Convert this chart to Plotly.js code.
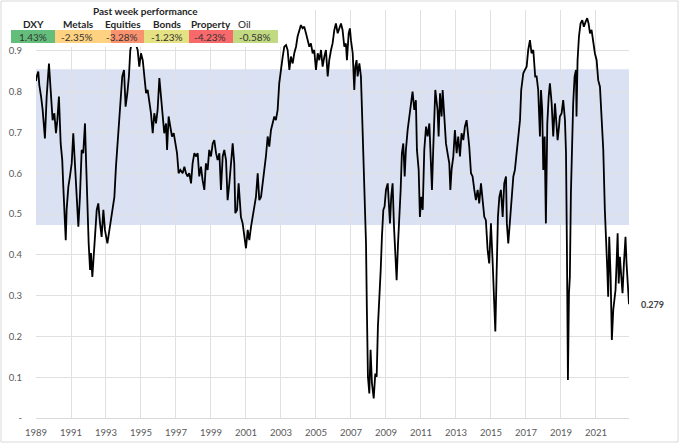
<!DOCTYPE html>
<html>
<head>
<meta charset="utf-8">
<script src="https://cdn.plot.ly/plotly-3.0.1.min.js"></script>
<style>
  html, body { margin: 0; padding: 0; background: #ffffff; }
  #chart { width: 680px; height: 444px; }
</style>
</head>
<body>
<div id="chart"></div>
<script>
// ---- data (decimal years, index values) ----
const years = [
  1989.00,1989.04,1989.13,1989.19,1989.29,1989.38,1989.51,1989.61,1989.74,1989.84,1989.95,
  1990.05,1990.14,1990.22,1990.31,1990.41,1990.50,1990.56,1990.64,1990.70,1990.75,1990.85,1990.94,
  1991.04,1991.13,1991.23,1991.32,1991.42,1991.51,1991.61,1991.70,1991.80,1991.86,1991.93,
  1992.01,1992.09,1992.14,1992.22,1992.28,1992.37,1992.47,1992.56,1992.66,1992.75,1992.85,1992.94,
  1993.08,1993.19,1993.29,1993.38,1993.48,1993.57,1993.67,1993.76,1993.84,1993.93,
  1994.03,1994.12,1994.22,1994.31,1994.39,1994.47,1994.60,1994.81,1994.90,
  1995.00,1995.10,1995.19,1995.29,1995.38,1995.48,1995.57,1995.67,1995.76,1995.86,1995.95,
  1996.05,1996.14,1996.24,1996.33,1996.43,1996.49,1996.58,1996.68,1996.77,1996.87,1996.96,
  1997.06,1997.15,1997.25,1997.38,1997.48,1997.57,1997.67,1997.76,1997.86,1997.95,
  1998.05,1998.14,1998.24,1998.33,1998.43,1998.52,1998.62,1998.71,1998.81,1998.90,
  1999.00,1999.10,1999.19,1999.29,1999.38,1999.48,1999.57,1999.67,1999.76,1999.86,1999.95,
  2000.05,2000.14,2000.24,2000.33,2000.39,2000.49,2000.58,2000.66,2000.71,2000.81,2000.90,
  2001.00,2001.10,2001.19,2001.29,2001.38,2001.48,2001.57,2001.67,2001.76,2001.86,2001.95,
  2002.05,2002.14,2002.24,2002.33,2002.43,2002.52,2002.62,2002.71,2002.81,2002.90,
  2003.00,2003.10,2003.19,2003.29,2003.38,2003.48,2003.57,2003.67,2003.76,2003.86,2003.95,
  2004.05,2004.14,2004.24,2004.33,2004.43,2004.52,2004.62,2004.71,2004.81,2004.90,
  2005.00,2005.10,2005.19,2005.29,2005.38,2005.48,2005.57,2005.67,2005.76,2005.86,2005.95,
  2006.05,2006.14,2006.24,2006.33,2006.43,2006.52,2006.62,2006.71,2006.77,2006.87,2006.94,
  2007.00,2007.10,2007.19,2007.25,2007.32,2007.38,2007.48,2007.57,2007.63,2007.70,2007.78,2007.86,2007.91,2007.97,
  2008.05,2008.12,2008.20,2008.30,2008.39,2008.47,2008.54,2008.62,2008.70,2008.77,2008.85,2008.92,
  2009.00,2009.10,2009.15,2009.23,2009.30,2009.38,2009.46,2009.53,2009.61,2009.69,2009.76,2009.84,2009.91,2009.99,
  2010.07,2010.14,2010.24,2010.33,2010.43,2010.52,2010.62,2010.71,2010.77,2010.87,2010.94,
  2011.02,2011.10,2011.19,2011.29,2011.38,2011.48,2011.55,2011.63,2011.70,2011.82,2011.95,
  2012.01,2012.09,2012.18,2012.24,2012.33,2012.43,2012.52,2012.62,2012.68,2012.75,2012.85,2012.94,
  2013.04,2013.13,2013.23,2013.32,2013.42,2013.51,2013.61,2013.70,2013.76,2013.86,2013.95,
  2014.05,2014.14,2014.24,2014.33,2014.43,2014.52,2014.62,2014.71,2014.81,2014.90,
  2015.00,2015.10,2015.17,2015.25,2015.32,2015.40,2015.48,2015.57,2015.67,2015.76,2015.86,2015.91,2015.99,
  2016.09,2016.18,2016.28,2016.37,2016.47,2016.56,2016.66,2016.73,2016.85,2016.94,
  2017.04,2017.13,2017.23,2017.32,2017.42,2017.53,2017.61,2017.70,2017.80,2017.86,2017.93,2017.99,
  2018.07,2018.14,2018.22,2018.30,2018.37,2018.47,2018.56,2018.66,2018.75,2018.81,2018.89,2018.94,
  2019.04,2019.13,2019.23,2019.29,2019.34,2019.40,2019.46,2019.51,2019.57,2019.63,2019.70,2019.78,2019.86,2019.89,2019.95,
  2020.03,2020.12,2020.22,2020.31,2020.41,2020.50,2020.58,2020.66,2020.75,2020.85,2020.94,
  2021.04,2021.13,2021.23,2021.32,2021.42,2021.51,2021.57,2021.65,2021.70,2021.76,2021.84,2021.91,2021.99,
  2022.05,2022.12,2022.18,2022.24,2022.30,2022.37,2022.45,2022.52,2022.60,2022.69,2022.75,2022.81,2022.89
];
const values = [
  0.826,0.837,0.849,0.816,0.788,0.755,0.685,0.788,0.869,0.796,0.730,
  0.747,0.698,0.730,0.788,0.673,0.632,0.567,0.493,0.436,0.510,0.567,0.592,
  0.624,0.698,0.616,0.542,0.469,0.542,0.657,0.649,0.722,0.632,0.510,
  0.428,0.363,0.404,0.346,0.379,0.444,0.510,0.526,0.477,0.444,0.510,0.461,
  0.428,0.461,0.493,0.510,0.542,0.616,0.673,0.730,0.788,0.837,
  0.853,0.763,0.796,0.837,0.902,0.918,0.930,0.902,0.861,
  0.894,0.877,0.828,0.796,0.804,0.771,0.747,0.698,0.747,0.722,0.755,
  0.833,0.788,0.730,0.698,0.722,0.657,0.739,0.714,0.690,0.698,0.673,
  0.649,0.600,0.608,0.600,0.616,0.600,0.592,0.600,0.575,0.624,
  0.649,0.641,0.649,0.592,0.616,0.583,0.559,0.624,0.608,0.657,
  0.641,0.673,0.681,0.649,0.632,0.649,0.559,0.641,0.657,0.632,0.534,
  0.575,0.624,0.673,0.624,0.502,0.510,0.575,0.526,0.493,0.477,0.444,
  0.416,0.461,0.436,0.469,0.493,0.518,0.542,0.600,0.534,0.542,0.575,
  0.600,0.641,0.690,0.665,0.706,0.722,0.739,0.730,0.755,0.820,
  0.861,0.886,0.910,0.914,0.902,0.853,0.886,0.869,0.894,0.910,0.935,
  0.951,0.963,0.955,0.959,0.943,0.926,0.910,0.918,0.894,0.902,
  0.853,0.894,0.877,0.902,0.861,0.886,0.902,0.837,0.877,0.902,0.918,
  0.951,0.967,0.943,0.955,0.967,0.951,0.910,0.918,0.877,0.943,0.955,
  0.926,0.894,0.804,0.861,0.877,0.837,0.869,0.837,0.755,0.657,0.575,0.428,0.265,0.101,
  0.060,0.167,0.085,0.048,0.109,0.101,0.224,0.281,0.363,0.444,0.510,0.518,
  0.559,0.575,0.526,0.477,0.542,0.575,0.469,0.412,0.338,0.428,0.477,0.559,0.649,0.673,
  0.592,0.657,0.706,0.739,0.763,0.800,0.755,0.779,0.657,0.608,0.493,
  0.542,0.510,0.657,0.714,0.690,0.722,0.632,0.559,0.657,0.804,0.755,
  0.690,0.796,0.739,0.804,0.739,0.673,0.649,0.624,0.559,0.608,0.641,0.706,
  0.649,0.690,0.641,0.698,0.681,0.714,0.730,0.690,0.665,0.600,0.592,
  0.559,0.534,0.559,0.526,0.575,0.542,0.493,0.485,0.412,0.379,
  0.477,0.379,0.281,0.212,0.346,0.493,0.542,0.559,0.493,0.575,0.592,0.477,0.428,
  0.493,0.542,0.592,0.608,0.657,0.690,0.730,0.804,0.845,0.853,
  0.861,0.902,0.926,0.894,0.902,0.837,0.837,0.804,0.690,0.804,0.755,0.608,
  0.690,0.477,0.722,0.788,0.820,0.771,0.690,0.771,0.722,0.681,0.714,0.739,
  0.747,0.779,0.730,0.649,0.428,0.093,0.306,0.346,0.551,0.673,0.771,0.837,0.853,0.739,0.877,
  0.935,0.967,0.975,0.959,0.971,0.980,0.967,0.943,0.951,0.918,0.894,
  0.877,0.828,0.812,0.730,0.657,0.510,0.461,0.363,0.297,0.444,0.346,0.191,0.265,
  0.297,0.314,0.379,0.453,0.330,0.395,0.346,0.306,0.379,0.444,0.379,0.346,0.279
];

// x-axis tick labels (years) and y-axis tick labels
const xTickYears = [1989,1991,1993,1995,1997,1999,2001,2003,2005,2007,2009,2011,2013,2015,2017,2019,2021];
const xTickLabels = xTickYears.map(String);
const yTickVals = [0,0.1,0.2,0.3,0.4,0.5,0.6,0.7,0.8,0.9,1.0];
const yTickLabels = ["-","0.1","0.2","0.3","0.4","0.5","0.6","0.7","0.8","0.9",""];

// shaded range
const bandLow = 0.473;
const bandHigh = 0.855;

// past week performance table
const perfLabels = ["DXY","Metals","Equities","Bonds","Property","Oil"];
const perfValues = [1.43,-2.35,-3.28,-1.23,-4.23,-0.58];
const perfColors = ["#63be7b","#fed280","#f9926f","#e4e283","#f8696b","#c2da81"];

// ---- layout geometry (pixels -> paper) ----
const W = 680, H = 444;
const M = {l:36, r:51, t:10, b:26};
const PW = W - M.l - M.r, PH = H - M.t - M.b;
const px = x => (x - M.l) / PW;
const py = y => (H - M.b - y) / PH;

const font = "Lato, 'Open Sans', sans-serif";
const textCol = "#404040";

const shapes = [];
const annotations = [];

// shaded band
shapes.push({type:"rect", xref:"paper", yref:"y", x0:0, x1:1, y0:bandLow, y1:bandHigh,
  fillcolor:"#d9e1f2", line:{width:0}, layer:"below"});

// white box behind the table
shapes.push({type:"rect", xref:"paper", yref:"paper", x0:px(0), x1:px(283), y0:py(47), y1:py(0),
  fillcolor:"#ffffff", line:{width:0}, layer:"above"});

// table cells
const cellEdges = [11,55,111,144,189,233,278];
const headerX = [33,78,123,167,211,244];
const valueX = [33,77,122,167,210,255];
for (let i = 0; i < perfLabels.length; i++) {
  shapes.push({type:"rect", xref:"paper", yref:"paper",
    x0:px(cellEdges[i]), x1:px(cellEdges[i+1]), y0:py(43), y1:py(30),
    fillcolor:perfColors[i], line:{width:0}, layer:"above"});
  annotations.push({xref:"paper", yref:"paper", x:px(headerX[i]), y:py(24),
    text: (perfLabels[i] === "Oil") ? perfLabels[i] : "<b>" + perfLabels[i] + "</b>",
    showarrow:false, xanchor:"center", yanchor:"middle",
    font:{family:font, size:10, color:"#262626"}});
  const v = perfValues[i];
  annotations.push({xref:"paper", yref:"paper", x:px(valueX[i]), y:py(36.5),
    text: v.toFixed(2) + "%",
    showarrow:false, xanchor:"center", yanchor:"middle",
    font:{family:font, size:10, color:"#333333"}});
}
annotations.push({xref:"paper", yref:"paper", x:px(145), y:py(11),
  text:"<b>Past week performance</b>", showarrow:false, xanchor:"center", yanchor:"middle",
  font:{family:font, size:10, color:"#262626"}});

// last value label
const lastX = years[years.length-1], lastV = values[values.length-1];
annotations.push({xref:"x", yref:"y", x:lastX, y:lastV, text:"<b>" + lastV.toFixed(3) + "</b>",
  showarrow:false, xanchor:"left", yanchor:"middle", xshift:10,
  font:{family:font, size:9, color:textCol}});

// outer chart border
shapes.push({type:"rect", xref:"paper", yref:"paper", x0:px(1), x1:px(678), y0:py(442), y1:py(1),
  fillcolor:"rgba(0,0,0,0)", line:{width:1, color:"#d9d9d9"}, layer:"above"});

const trace = {
  x: years, y: values, type:"scatter", mode:"lines",
  line:{color:"#000000", width:1.8}, hoverinfo:"skip"
};

const layout = {
  width:W, height:H,
  margin:{l:M.l, r:M.r, t:M.t, b:M.b, pad:0},
  paper_bgcolor:"#ffffff", plot_bgcolor:"rgba(0,0,0,0)",
  showlegend:false,
  font:{family:font, size:9, color:"#595959"},
  xaxis:{
    range:[years[0], lastX], tickmode:"array", tickvals:xTickYears, ticktext:xTickLabels,
    showgrid:true, gridcolor:"#e0e0e0", gridwidth:1, zeroline:false,
    showline:true, linecolor:"#d9d9d9", linewidth:1,
    ticks:"outside", ticklen:6, tickcolor:"rgba(0,0,0,0)",
    tickfont:{family:font, size:9.5, color:"#595959"}, fixedrange:true
  },
  yaxis:{
    range:[0,1], tickmode:"array", tickvals:yTickVals, ticktext:yTickLabels,
    showgrid:true, gridcolor:"#e0e0e0", gridwidth:1, zeroline:false,
    showline:false,
    ticks:"outside", ticklen:11, tickcolor:"rgba(0,0,0,0)",
    tickfont:{family:font, size:9.5, color:"#595959"}, fixedrange:true
  },
  shapes: shapes,
  annotations: annotations
};

Plotly.newPlot("chart", [trace], layout, {displayModeBar:false, staticPlot:true});
</script>
</body>
</html>
